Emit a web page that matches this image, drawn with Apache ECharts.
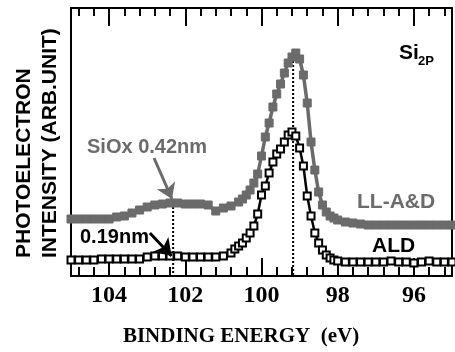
<!DOCTYPE html>
<html>
<head>
<meta charset="utf-8">
<script src="https://cdn.jsdelivr.net/npm/echarts@6/dist/echarts.min.js"></script>
<style>
  html, body { margin: 0; padding: 0; background: #fff; }
  #chart { width: 455px; height: 352px; }
</style>
</head>
<body>
<div id="chart"></div>
<script>
// ---------------- data (binding energy in eV, intensity in arb. units) ----------------
const energyLL = [105.0, 104.8, 104.6, 104.4, 104.2, 104.0, 103.8, 103.6, 103.4, 103.2, 103.0,
  102.8, 102.6, 102.4, 102.2, 102.0, 101.8, 101.6, 101.4, 101.2, 101.0, 100.8, 100.6, 100.5,
  100.4, 100.3, 100.2, 100.1, 100.0, 99.9, 99.8, 99.7, 99.6, 99.5, 99.4, 99.3, 99.2, 99.1,
  99.0, 98.9, 98.8, 98.7, 98.6, 98.5, 98.4, 98.3, 98.2, 98.1, 98.0, 97.8, 97.6, 97.4, 97.2,
  97.0, 96.8, 96.6, 96.4, 96.2, 96.0, 95.8, 95.6, 95.4, 95.2, 95.0];
const countsLL = [57, 57, 57, 57, 57, 57, 59, 60, 63, 66, 69,
  71, 72, 73, 73, 72, 72, 72, 71, 65, 68, 70, 74, 77,
  81, 86, 93, 102, 120, 139, 153, 169, 182, 192, 203, 213, 219, 223,
  217, 201, 173, 134, 106, 84, 71, 64, 60, 58, 56, 54, 53, 52, 51,
  51, 51, 51, 51, 51, 51, 51, 51, 51, 51, 51];

const energyALD = [105.0, 104.8, 104.6, 104.4, 104.2, 104.0, 103.8, 103.6, 103.4, 103.2, 103.0,
  102.8, 102.6, 102.4, 102.2, 102.0, 101.8, 101.6, 101.4, 101.2, 101.0, 100.8, 100.7, 100.6,
  100.5, 100.4, 100.3, 100.2, 100.1, 100.0, 99.9, 99.8, 99.7, 99.6, 99.5, 99.4, 99.3, 99.2,
  99.1, 99.0, 98.9, 98.8, 98.7, 98.6, 98.5, 98.4, 98.3, 98.2, 98.1, 98.0, 97.8, 97.6, 97.4,
  97.2, 97.0, 96.8, 96.6, 96.4, 96.2, 96.0, 95.8, 95.6, 95.4, 95.2, 95.0];
const countsALD = [16, 16, 16, 16, 17, 17, 17, 17, 17, 17, 19,
  20, 20, 20, 20, 19, 19, 19, 19, 19, 20, 23, 27, 30,
  33, 38, 43, 50, 62, 81, 90, 103, 114, 122, 127, 134, 141, 144,
  140, 128, 110, 80, 60, 43, 33, 26, 21, 18, 16, 15, 14, 14, 14,
  14, 14, 14, 15, 14, 14, 13, 14, 15, 14, 14, 14];

// dotted guide lines (energy, top of the line)
const guideEnergy = [102.32, 99.17];
const guideTop = [73, 223];

// annotation arrows: [startE, startI, endE, endI]
const arrowSiOx = [102.82, 118, 102.35, 77];
const arrowALD = [102.93, 43, 102.36, 20];

const majorTicks = [96, 98, 100, 102, 104];
const minorTicks = [95.2, 95.6, 96.4, 96.8, 97.2, 97.6, 98.4, 98.8, 99.2, 99.6,
  100.4, 100.8, 101.2, 101.6, 102.4, 102.8, 103.2, 103.6, 104.4, 104.8];

const GRAY = '#6b6b6b';

// -----------------------------------------------------------------------------
const chart = echarts.init(document.getElementById('chart'));

function pairs(xs, ys) {
  return xs.map((x, i) => [x, ys[i]]);
}

function tickAxis(position, values, len, showLine) {
  return {
    type: 'value', position: position, min: 95, max: 105, inverse: true,
    axisLine: { show: showLine, onZero: false, lineStyle: { color: '#000', width: 2 } },
    axisTick: { show: true, inside: true, length: len, customValues: values,
      lineStyle: { color: '#000', width: 2 } },
    axisLabel: { show: false },
    splitLine: { show: false }
  };
}

const bottomAxis = tickAxis('bottom', majorTicks, 18, true);
bottomAxis.axisLabel = {
  show: true, customValues: majorTicks, margin: 8,
  fontFamily: 'Liberation Serif', fontWeight: 'bold', fontSize: 24, color: '#000'
};

const guideSeries = guideEnergy.map((e, i) => ({
  type: 'line', symbol: 'none', silent: true, z: 1,
  data: [[e, guideTop[i]], [e, 0]],
  lineStyle: { color: '#000', width: 2, type: [2, 2] }
}));

const option = {
  animation: false,
  grid: { left: 71, right: 3, top: 8, bottom: 76 },
  xAxis: [
    bottomAxis,
    tickAxis('bottom', minorTicks, 9, false),
    tickAxis('top', majorTicks, 18, true),
    tickAxis('top', minorTicks, 8, false)
  ],
  yAxis: [
    { type: 'value', min: 0, max: 268, position: 'left',
      axisLine: { show: true, lineStyle: { color: '#000', width: 2 } },
      axisTick: { show: false }, axisLabel: { show: false }, splitLine: { show: false } },
    { type: 'value', min: 0, max: 268, position: 'right',
      axisLine: { show: true, lineStyle: { color: '#000', width: 2 } },
      axisTick: { show: false }, axisLabel: { show: false }, splitLine: { show: false } }
  ],
  series: [
    ...guideSeries,
    {
      name: 'LL-A&D', type: 'line', data: pairs(energyLL, countsLL),
      symbol: 'rect', symbolSize: 8, z: 3,
      lineStyle: { color: GRAY, width: 3.5 },
      itemStyle: { color: GRAY, borderColor: GRAY, borderWidth: 1 },
      markLine: {
        silent: true, symbol: ['none', 'arrow'], symbolSize: 15,
        label: { show: false },
        lineStyle: { color: GRAY, width: 3, type: 'solid' },
        data: [[{ coord: [arrowSiOx[0], arrowSiOx[1]] }, { coord: [arrowSiOx[2], arrowSiOx[3]] }]]
      }
    },
    {
      name: 'ALD', type: 'line', data: pairs(energyALD, countsALD),
      symbol: 'rect', symbolSize: 7, z: 4,
      lineStyle: { color: '#000', width: 2.5 },
      itemStyle: { color: '#fff', borderColor: '#000', borderWidth: 2 },
      markLine: {
        silent: true, symbol: ['none', 'arrow'], symbolSize: 16,
        label: { show: false },
        lineStyle: { color: '#000', width: 3, type: 'solid' },
        data: [[{ coord: [arrowALD[0], arrowALD[1]] }, { coord: [arrowALD[2], arrowALD[3]] }]]
      }
    }
  ],
  graphic: [
    { type: 'text', x: 24, y: 258, rotation: Math.PI / 2,
      style: { text: 'PHOTOELECTRON', fontFamily: 'Liberation Sans', fontWeight: 'bold',
        fontSize: 21, fill: '#000', align: 'left', verticalAlign: 'middle' } },
    { type: 'text', x: 50, y: 258, rotation: Math.PI / 2,
      style: { text: 'INTENSITY (ARB.UNIT)', fontFamily: 'Liberation Sans', fontWeight: 'bold',
        fontSize: 21, fill: '#000', align: 'left', verticalAlign: 'middle' } },
    { type: 'text', x: 241, y: 337,
      style: { text: 'BINDING ENERGY  (eV)', fontFamily: 'Liberation Serif', fontWeight: 'bold',
        fontSize: 21, fill: '#000', align: 'center', verticalAlign: 'middle' } },
    { type: 'text', x: 399, y: 53,
      style: { text: 'Si', fontFamily: 'Liberation Sans', fontWeight: 'bold',
        fontSize: 21, fill: '#000', align: 'left', verticalAlign: 'middle' } },
    { type: 'text', x: 418, y: 61,
      style: { text: '2P', fontFamily: 'Liberation Sans', fontWeight: 'bold',
        fontSize: 13, fill: '#000', align: 'left', verticalAlign: 'middle' } },
    { type: 'text', x: 87, y: 147,
      style: { text: 'SiOx 0.42nm', fontFamily: 'Liberation Sans', fontWeight: 'bold',
        fontSize: 20, fill: GRAY, align: 'left', verticalAlign: 'middle' } },
    { type: 'text', x: 80, y: 237,
      style: { text: '0.19nm', fontFamily: 'Liberation Sans', fontWeight: 'bold',
        fontSize: 20, fill: '#000', align: 'left', verticalAlign: 'middle' } },
    { type: 'text', x: 357, y: 202,
      style: { text: 'LL-A&D', fontFamily: 'Liberation Sans', fontWeight: 'bold',
        fontSize: 21, fill: GRAY, align: 'left', verticalAlign: 'middle' } },
    { type: 'text', x: 372, y: 246,
      style: { text: 'ALD', fontFamily: 'Liberation Sans', fontWeight: 'bold',
        fontSize: 21, fill: '#000', align: 'left', verticalAlign: 'middle' } }
  ]
};

chart.setOption(option);
</script>
</body>
</html>
